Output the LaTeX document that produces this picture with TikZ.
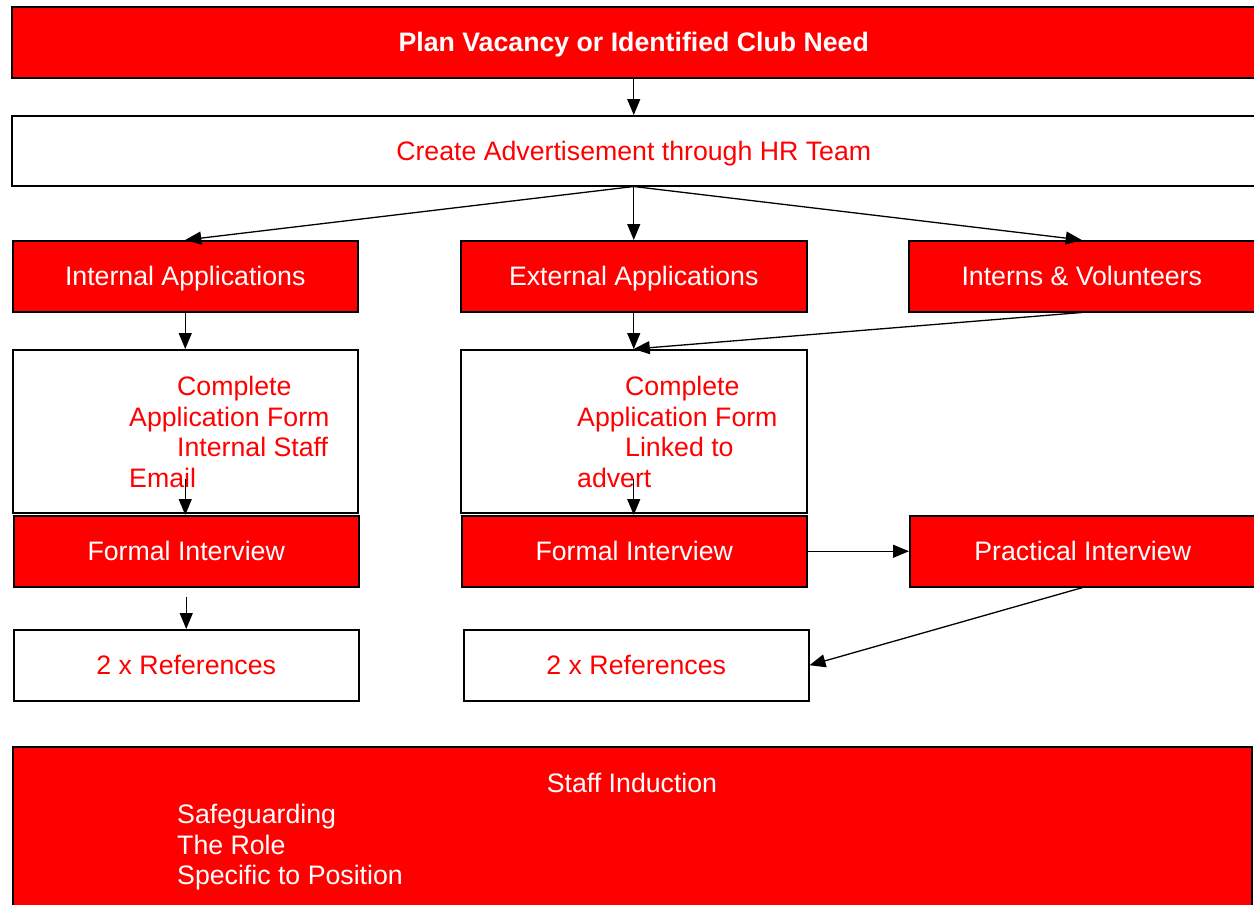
\documentclass[tikz,border=0pt]{standalone}
\usepackage{fontspec}
\setmainfont{Liberation Sans}
\usetikzlibrary{arrows.meta}

\begin{document}
\begin{tikzpicture}[x=1pt, y=-1pt, font=\fontsize{26.7}{30.5}\selectfont,
    redbox/.style={draw, line width=1.5pt, fill=red, text=white, anchor=north west, inner sep=0pt, text depth=0pt},
    whitebox/.style={draw, line width=1.5pt, fill=white, text=red, anchor=north west, inner sep=0pt, text depth=0pt},
    flow/.style={-{Triangle[length=16pt,width=13pt]}, line width=1.3pt}]
    \useasboundingbox (0,0) rectangle (1254,905);
    \clip (0,0) rectangle (1254,905);

    \node[redbox, minimum width=1244pt, minimum height=71pt] (plan) at (11,6) {\textbf{Plan Vacancy or Identified Club Need}};
    \node[whitebox, minimum width=1244pt, minimum height=70pt] (advert) at (11,115) {Create Advertisement through HR Team};

    \node[redbox, minimum width=345pt, minimum height=71pt] (intApp) at (12,240) {Internal Applications};
    \node[redbox, minimum width=346pt, minimum height=71pt] (extApp) at (460,240) {External Applications};
    \node[redbox, minimum width=346pt, minimum height=71pt] (volApp) at (908,240) {Interns \& Volunteers};

    \node[whitebox, minimum width=345pt, minimum height=163pt] (formInt) at (12,349) {};
    \node[anchor=north west, inner sep=0pt, align=left, text=red] (formIntTxt) at (129,376) {\hspace*{48pt}Complete\\Application Form\\\hspace*{48pt}Internal Staff\\Email};
    \node[whitebox, minimum width=346pt, minimum height=163pt] (formExt) at (460,349) {};
    \node[anchor=north west, inner sep=0pt, align=left, text=red] (formExtTxt) at (577,376) {\hspace*{48pt}Complete\\Application Form\\\hspace*{48pt}Linked to\\advert};

    \node[redbox, minimum width=345pt, minimum height=71pt] (fiInt) at (13,515) {Formal Interview};
    \node[redbox, minimum width=345pt, minimum height=71pt] (fiExt) at (461,515) {Formal Interview};
    \node[redbox, minimum width=346pt, minimum height=71pt] (practical) at (909,515) {Practical Interview};

    \node[whitebox, minimum width=345pt, minimum height=71pt] (refInt) at (13,629) {2 x References};
    \node[whitebox, minimum width=345pt, minimum height=71pt] (refExt) at (463,629) {2 x References};

    % induction box runs off the bottom edge
    \node[redbox, minimum width=1239pt, minimum height=170pt] (induct) at (12,746) {};
    \node[text=white, inner sep=0pt] (inductTitle) at (632,783) {Staff Induction};
    \node[anchor=north west, inner sep=0pt, align=left, text=white] (inductList) at (177,804) {Safeguarding\\The Role\\Specific to Position};

    \draw[flow] (plan.south) -- (advert.north);
    \draw[flow] (advert.south) -- (intApp.north);
    \draw[flow] (advert.south) -- (extApp.north);
    \draw[flow] (advert.south) -- (volApp.north);
    \draw[flow] (intApp.south) -- (formInt.north);
    \draw[flow] (extApp.south) -- (formExt.north);
    \draw[flow] (volApp.south) -- (formExt.north);
    \draw[flow] ([yshift=35pt]formInt.south) -- (formInt.south |- fiInt.north);
    \draw[flow] ([yshift=35pt]formExt.south) -- (formExt.south |- fiExt.north);
    \draw[flow, shorten <=9pt] (fiInt.south) -- (refInt.north);
    \draw[flow] (fiExt.east) -- (practical.west);
    \draw[flow] (practical.south) -- (refExt.east);
\end{tikzpicture}
\end{document}
